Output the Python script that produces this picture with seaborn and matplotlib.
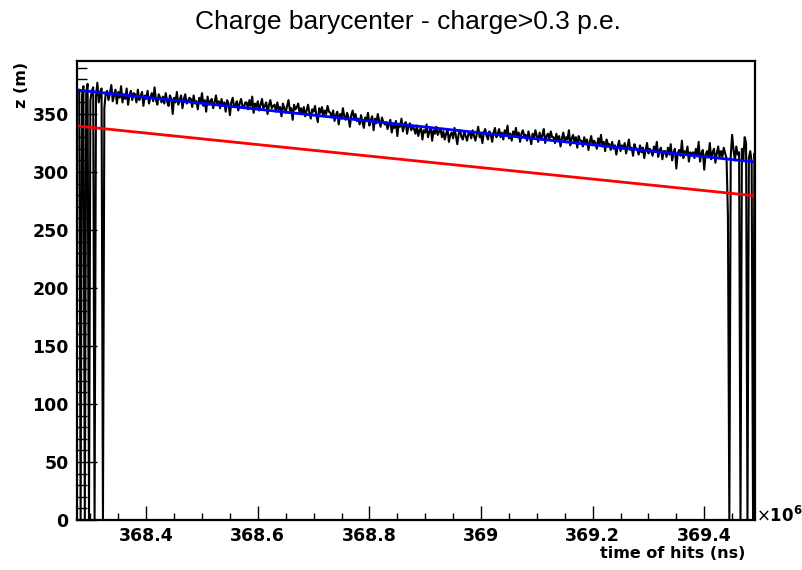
import numpy as np
import pandas as pd
import matplotlib
matplotlib.use("Agg")
import matplotlib.pyplot as plt
import seaborn as sns
from matplotlib.ticker import MultipleLocator

sns.set_style("ticks")
plt.rcParams['font.family'] = ['DejaVu Sans']
plt.rcParams.update({'text.color': 'black', 'axes.labelcolor': 'black',
                     'xtick.color': 'black', 'ytick.color': 'black',
                     'axes.edgecolor': 'black'})

# histogram bins: time of hits in units of 1e6 ns
bin_start = 368.28
bin_width = 0.0025

# charge barycenter z (m), one value per bin (20 bins per row)
z_values = [
    371, 0, 366, 374, 0, 368, 376, 0, 362, 370, 373, 0, 365, 377, 360, 369, 372, 0, 355, 368,
    370, 362, 368, 375, 361, 366, 371, 359, 369, 364, 374, 360, 367, 363, 372, 358, 366, 370, 362, 368,
    367, 360, 371, 362, 365, 369, 357, 366, 363, 370, 359, 364, 368, 361, 373, 362, 358, 367, 364, 360,
    365, 359, 368, 361, 357, 366, 363, 350, 364, 360, 369, 358, 362, 366, 355, 363, 367, 359, 361, 364,
    363, 356, 366, 359, 361, 354, 364, 360, 368, 357, 362, 352, 365, 358, 361, 363, 355, 360, 366, 358,
    361, 355, 363, 357, 360, 352, 362, 359, 349, 360, 364, 356, 358, 361, 353, 359, 363, 357, 355, 360,
    360, 354, 362, 357, 365, 351, 359, 356, 361, 353, 358, 363, 355, 357, 360, 350, 358, 362, 355, 357,
    358, 352, 360, 354, 356, 348, 359, 355, 351, 357, 362, 353, 355, 345, 358, 354, 356, 359, 350, 355,
    350, 356, 348, 353, 358, 351, 346, 354, 352, 357, 349, 343, 355, 351, 356, 348, 353, 350, 357, 352,
    351, 347, 353, 344, 349, 352, 341, 350, 346, 355, 348, 345, 351, 347, 339, 349, 353, 346, 350, 344,
    346, 341, 349, 343, 338, 347, 344, 351, 340, 345, 348, 336, 346, 342, 350, 344, 339, 347, 343, 341,
    343, 337, 341, 345, 334, 340, 338, 344, 331, 341, 339, 346, 335, 340, 343, 333, 339, 342, 336, 340,
    337, 333, 340, 331, 336, 338, 328, 336, 334, 341, 330, 335, 338, 327, 336, 333, 339, 332, 335, 337,
    330, 335, 328, 333, 337, 326, 332, 334, 329, 338, 331, 324, 333, 336, 330, 328, 335, 331, 327, 333,
    334, 329, 336, 331, 327, 333, 339, 330, 332, 325, 334, 337, 331, 328, 335, 332, 326, 334, 338, 330,
    333, 337, 330, 334, 328, 336, 332, 340, 329, 333, 327, 335, 331, 338, 330, 334, 326, 333, 336, 331,
    332, 327, 335, 330, 324, 333, 329, 336, 331, 326, 334, 328, 332, 337, 325, 331, 333, 328, 335, 330,
    330, 325, 333, 327, 331, 322, 329, 334, 326, 330, 328, 336, 323, 329, 332, 326, 330, 321, 331, 327,
    327, 322, 330, 324, 328, 319, 326, 331, 323, 327, 325, 320, 329, 324, 332, 322, 326, 318, 328, 324,
    324, 319, 326, 320, 323, 315, 322, 327, 318, 323, 320, 325, 316, 322, 328, 319, 321, 314, 324, 320,
    320, 315, 323, 317, 321, 312, 319, 325, 316, 320, 318, 314, 322, 317, 326, 313, 319, 321, 311, 318,
    318, 313, 321, 315, 324, 310, 317, 320, 303, 316, 319, 314, 327, 312, 318, 315, 322, 309, 317, 314,
    317, 312, 320, 314, 326, 309, 316, 319, 302, 315, 318, 313, 325, 311, 317, 320, 308, 316, 322, 313,
    318, 313, 321, 316, 312, 262, 0, 314, 332, 319, 310, 322, 315, 317, 0, 320, 311, 330, 325, 0,
    312, 318, 309, 0, 316, 300,
]

# fitted lines (endpoints at the axis limits)
blue_t = [368.276, 369.491]
blue_z = [370.7, 308.6]
red_t = [368.276, 369.491]
red_z = [339.7, 279.5]

t_bins = bin_start + bin_width * np.arange(len(z_values))
df = pd.DataFrame({"t": t_bins, "z": z_values})

fig = plt.figure(figsize=(8.03, 5.70), dpi=100)
ax = fig.add_axes([77 / 803, 50 / 570, 678 / 803, 459 / 570])

sns.lineplot(data=df, x="t", y="z", ax=ax, color="black", linewidth=1.5,
             estimator=None, sort=False)
sns.lineplot(x=blue_t, y=blue_z, ax=ax, color="#0000ff", linewidth=2, estimator=None)
sns.lineplot(x=red_t, y=red_z, ax=ax, color="#ff0000", linewidth=2, estimator=None)

ax.set_xlim(368.276, 369.491)
ax.set_ylim(0, 395.7)
ax.xaxis.set_minor_locator(MultipleLocator(0.05))
ax.yaxis.set_major_locator(MultipleLocator(50))
ax.yaxis.set_minor_locator(MultipleLocator(10))
ax.set_xticks([368.4, 368.6, 368.8, 369.0, 369.2, 369.4])
ax.set_xticklabels(["368.4", "368.6", "368.8", "369", "369.2", "369.4"])

ax.tick_params(axis='y', which='major', direction='in', length=14.4, width=1, pad=6,
               labelsize=12.5, right=False)
ax.tick_params(axis='y', which='minor', direction='in', length=7.2, width=1, right=False)
ax.tick_params(axis='x', which='major', direction='in', length=10, width=1, pad=5,
               labelsize=12.5, top=False)
ax.tick_params(axis='x', which='minor', direction='in', length=5, width=1, top=False)
for lab in ax.get_xticklabels() + ax.get_yticklabels():
    lab.set_fontweight('bold')
for sp in ax.spines.values():
    sp.set_visible(True)
    sp.set_linewidth(1.6)
    sp.set_color("black")

ax.set_xlabel("")
ax.set_ylabel("")
fig.text(745 / 803, 1 - 553 / 570, "time of hits (ns)", ha="right", va="center",
         fontsize=11.5, fontweight="bold")
fig.text(22 / 803, 1 - 62 / 570, "z (m)", ha="center", va="top", rotation=90,
         fontsize=11.5, fontweight="bold")
fig.text(756 / 803, 1 - 516 / 570, r"$\times\mathbf{10}^{\mathbf{6}}$", ha="left",
         va="center", fontsize=12)
fig.text(408 / 803, 1 - 22 / 570, "Charge barycenter - charge>0.3 p.e.", ha="center",
         va="center", fontsize=19, family="Liberation Sans")

fig.savefig("out.png", dpi=100)
